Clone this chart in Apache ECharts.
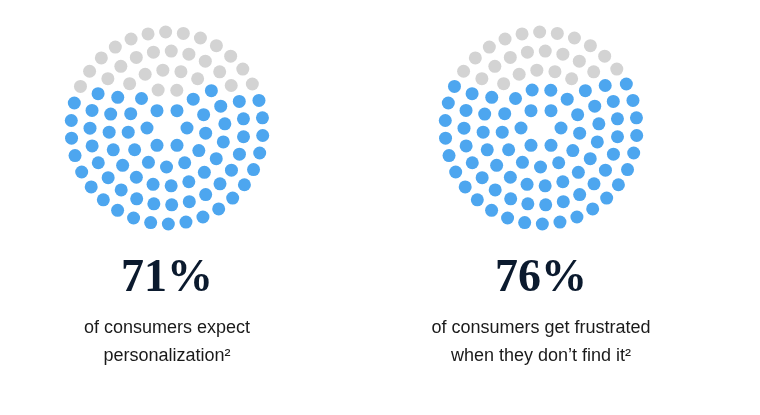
<!DOCTYPE html>
<html><head><meta charset="utf-8">
<script src="https://cdn.jsdelivr.net/npm/echarts@6/dist/echarts.min.js"></script>
<style>html,body{margin:0;background:#fff}#c{width:760px;height:415px}</style>
</head><body><div id="c"></div>
<script>
// values
var percents = [71, 76];
var labels = ['of consumers expect\npersonalization²', 'of consumers get frustrated\nwhen they don’t find it²'];
var centersX = [167, 541];
// dot layout: ring radii (px) and dot counts per ring, 100 dots total
var ringRadii = [20, 39, 58, 77, 96];
var ringCounts = [6, 13, 20, 27, 34];

function dotLayout() {
  var pts = [];
  ringRadii.forEach(function (r, k) {
    var n = ringCounts[k];
    for (var i = 0; i < n; i++) {
      var a = (i / n) * 2 * Math.PI + k * 0.35;
      pts.push([r * Math.cos(a), r * Math.sin(a)]);
    }
  });
  // lowest dots fill first
  pts.sort(function (p, q) { return p[1] - q[1]; });
  return pts;
}

var chart = echarts.init(document.getElementById('c'));
var grids = [], xAxes = [], yAxes = [], series = [], graphics = [];
percents.forEach(function (p, i) {
  var pts = dotLayout();
  grids.push({left: centersX[i] - 105, top: 23, width: 210, height: 210});
  xAxes.push({type: 'value', min: -105, max: 105, show: false, gridIndex: i});
  yAxes.push({type: 'value', min: -105, max: 105, show: false, gridIndex: i});
  series.push({type: 'scatter', xAxisIndex: i, yAxisIndex: i, symbolSize: 13, silent: true,
    data: pts.slice(0, p), itemStyle: {color: '#4da6ef', opacity: 1}});
  series.push({type: 'scatter', xAxisIndex: i, yAxisIndex: i, symbolSize: 13, silent: true,
    data: pts.slice(p), itemStyle: {color: '#d3d3d3', opacity: 1}});
  graphics.push({type: 'text', x: centersX[i], y: 279, style: {text: p + '%', align: 'center', verticalAlign: 'middle',
    font: 'bold 46px "Liberation Serif", serif', fill: '#0b1a2e'}});
  graphics.push({type: 'text', x: centersX[i], y: 342, style: {text: labels[i], align: 'center', verticalAlign: 'middle',
    font: '18px "Liberation Sans", Arial, sans-serif', lineHeight: 28, fill: '#1a1a1a'}});
});
chart.setOption({animation: false, grid: grids, xAxis: xAxes, yAxis: yAxes, series: series, graphic: graphics});
</script></body></html>
